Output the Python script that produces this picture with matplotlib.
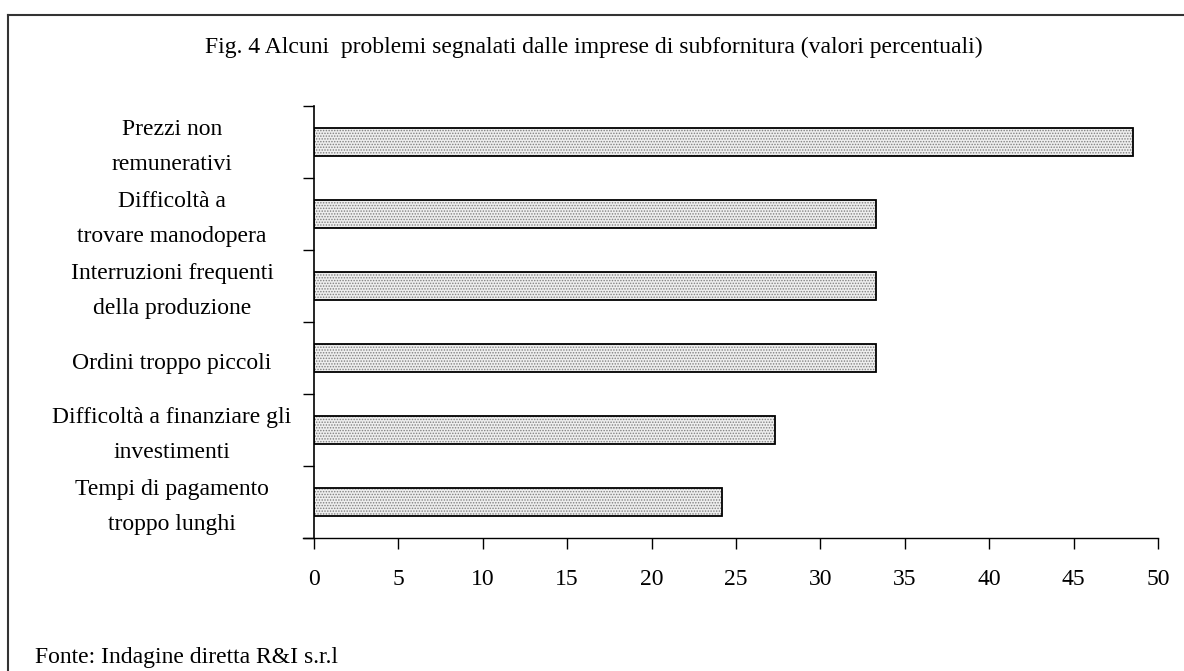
import matplotlib
import numpy as np
from matplotlib import pyplot as plt
from matplotlib.lines import Line2D

categories = [
    "Prezzi non\nremunerativi",
    "Difficoltà a\ntrovare manodopera",
    "Interruzioni frequenti\ndella produzione",
    "Ordini troppo piccoli",
    "Difficoltà a finanziare gli\ninvestimenti",
    "Tempi di pagamento\ntroppo lunghi",
]
values = [48.5, 33.3, 33.3, 33.3, 27.3, 24.2]
x_ticks = [0, 5, 10, 15, 20, 25, 30, 35, 40, 45, 50]

title = "Fig. 4 Alcuni  problemi segnalati dalle imprese di subfornitura (valori percentuali)"
source = "Fonte: Indagine diretta R&I s.r.l"

matplotlib.rcParams["font.family"] = "Liberation Serif"
matplotlib.rcParams["font.size"] = 17
matplotlib.rcParams["hatch.linewidth"] = 0.7

W, H = 1184, 671
fig = plt.figure(figsize=(W / 100, H / 100), dpi=100)
ax = fig.add_axes([314 / W, 1 - 538 / H, (1158 - 314) / W, (538 - 106) / H])

n = len(categories)
pos = np.arange(n)[::-1] + 0.5  # first category on top
ax.barh(pos, values, height=0.4, color="#eeeeee", edgecolor="#808080",
        hatch="......", linewidth=0)
ax.barh(pos, values, height=0.4, fill=False, edgecolor="black", linewidth=1.3)

ax.set_xlim(0, 50)
ax.set_ylim(0, n)
ax.set_xticks(x_ticks)
ax.set_xticklabels([str(t) for t in x_ticks])
ax.set_yticks(np.arange(n + 1))
ax.set_yticklabels([])
ax.tick_params(axis="x", direction="out", length=8, width=1, pad=14, colors="black")
ax.tick_params(axis="y", direction="out", length=8, width=1)
for s in ["top", "right"]:
    ax.spines[s].set_visible(False)
ax.spines["left"].set_linewidth(1.2)
ax.spines["bottom"].set_linewidth(1.0)
ax.spines["bottom"].set_bounds(-11 / 16.88, 50)

label_x = 172 / W
for p, lab in zip(pos, categories):
    _, yy = fig.transFigure.inverted().transform(ax.transData.transform((0, p)))
    fig.text(label_x, yy - 5 / H, lab, ha="center", va="center",
             multialignment="center", linespacing=1.85)

fig.text(594 / W, 1 - 47 / H, title, ha="center", va="center")
fig.text(35 / W, 1 - 657 / H, source, ha="left", va="center")

# frame around the chart area
fig.add_artist(Line2D([8 / W, 1], [1 - 15 / H, 1 - 15 / H], color="#333333", lw=1.5))
fig.add_artist(Line2D([8 / W, 8 / W], [0, 1 - 15 / H], color="#333333", lw=1.5))

fig.savefig("out.png", dpi=100)
